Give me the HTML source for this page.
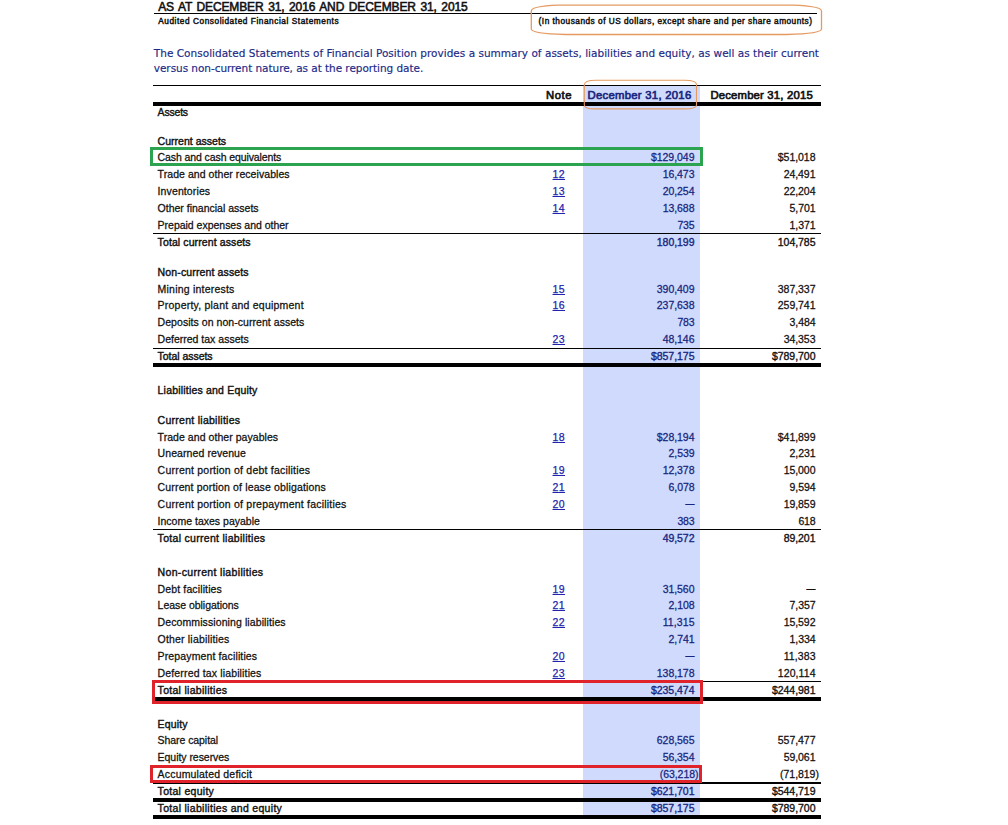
<!DOCTYPE html>
<html lang="en"><head><meta charset="utf-8">
<title>Consolidated Statements of Financial Position</title>
<style>
html,body{margin:0;padding:0;background:#fff;}
body{width:1008px;height:825px;position:relative;overflow:hidden;font-family:"Liberation Sans",Arial,sans-serif;color:#111;}
.t{position:absolute;white-space:nowrap;line-height:20px;height:20px;}
.b{font-weight:bold;}
.rg{-webkit-text-stroke:0.26px currentColor;}
.sb{-webkit-text-stroke:0.4px currentColor;}
.ds{-webkit-text-stroke:0.4px currentColor;}
.sa{-webkit-text-stroke:0.36px currentColor;}
.sn{-webkit-text-stroke:0.35px currentColor;}
.tb{-webkit-text-stroke:0.55px currentColor;}
.hb{-webkit-text-stroke:0.45px currentColor;}
.hh{-webkit-text-stroke:0.65px currentColor;}
.bl{color:#18267f;}
.pb{color:#1b2986;-webkit-text-stroke:0.15px currentColor;font-family:"DejaVu Sans","Liberation Sans",sans-serif;}
.lk{color:#2323ad;text-decoration:underline;text-underline-offset:1.2px;text-decoration-thickness:1px;-webkit-text-stroke:0.25px currentColor;}
.ln{position:absolute;}
.box{position:absolute;box-sizing:border-box;}
svg{position:absolute;left:0;top:0;}
</style></head><body>

<div class="ln" style="left:583px;top:86px;width:117px;height:728.8px;background:#cfdafc"></div>
<div class="ln" style="left:153.7px;top:12.7px;width:663.5px;height:1.0px;background:#000"></div>
<div class="ln" style="left:153px;top:85px;width:668.0px;height:1.0px;background:#000"></div>
<div class="ln" style="left:153px;top:102px;width:668.0px;height:4.0px;background:#000"></div>
<div class="ln" style="left:153px;top:233.3px;width:668.0px;height:1.0px;background:#000"></div>
<div class="ln" style="left:153px;top:348px;width:668.0px;height:1.0px;background:#000"></div>
<div class="ln" style="left:153px;top:363px;width:668.0px;height:4.0px;background:#000"></div>
<div class="ln" style="left:153px;top:529px;width:668.0px;height:1.0px;background:#000"></div>
<div class="ln" style="left:153px;top:681px;width:668.0px;height:1.0px;background:#000"></div>
<div class="ln" style="left:153px;top:697.1px;width:668.0px;height:3.8px;background:#000"></div>
<div class="ln" style="left:153px;top:782.2px;width:668.0px;height:1.8px;background:#000"></div>
<div class="ln" style="left:153px;top:798.2px;width:668.0px;height:3.7px;background:#000"></div>
<div class="ln" style="left:153px;top:815px;width:668.0px;height:3.9px;background:#000"></div>
<span id="l0" class="t sa" style="left:157.60px;top:101.86px;font-size:10.5px;letter-spacing:-0.202px;">Assets</span>
<span id="l1" class="t sb" style="left:157.60px;top:131.36px;font-size:10.5px;letter-spacing:0.018px;">Current assets</span>
<span id="l2" class="t rg" style="left:157.60px;top:147.36px;font-size:10.5px;letter-spacing:-0.097px;">Cash and cash equivalents</span>
<span id="a2" class="t bl rg" style="left:650.90px;top:147.36px;font-size:10.5px;letter-spacing:-0.028px;">$129,049</span>
<span id="c2" class="t rg" style="left:777.80px;top:147.36px;font-size:10.5px;letter-spacing:-0.043px;">$51,018</span>
<span id="l3" class="t rg" style="left:157.60px;top:164.36px;font-size:10.5px;letter-spacing:0.063px;">Trade and other receivables</span>
<a id="n3" class="t lk" style="left:552.50px;top:164.36px;font-size:10.5px;letter-spacing:0.424px;">12</a>
<span id="a3" class="t bl rg" style="left:662.70px;top:164.36px;font-size:10.5px;letter-spacing:-0.064px;">16,473</span>
<span id="c3" class="t rg" style="left:783.70px;top:164.36px;font-size:10.5px;letter-spacing:-0.064px;">24,491</span>
<span id="l4" class="t rg" style="left:157.60px;top:181.36px;font-size:10.5px;letter-spacing:0.113px;">Inventories</span>
<a id="n4" class="t lk" style="left:552.50px;top:181.36px;font-size:10.5px;letter-spacing:0.424px;">13</a>
<span id="a4" class="t bl rg" style="left:662.70px;top:181.36px;font-size:10.5px;letter-spacing:-0.064px;">20,254</span>
<span id="c4" class="t rg" style="left:783.70px;top:181.36px;font-size:10.5px;letter-spacing:-0.064px;">22,204</span>
<span id="l5" class="t rg" style="left:157.60px;top:198.11px;font-size:10.5px;">Other financial assets</span>
<a id="n5" class="t lk" style="left:552.50px;top:198.11px;font-size:10.5px;letter-spacing:0.424px;">14</a>
<span id="a5" class="t bl rg" style="left:662.70px;top:198.11px;font-size:10.5px;letter-spacing:-0.064px;">13,688</span>
<span id="c5" class="t rg" style="left:789.60px;top:198.11px;font-size:10.5px;letter-spacing:-0.093px;">5,701</span>
<span id="l6" class="t rg" style="left:157.60px;top:214.86px;font-size:10.5px;letter-spacing:-0.014px;">Prepaid expenses and other</span>
<span id="a6" class="t bl rg" style="left:677.40px;top:214.86px;font-size:10.5px;letter-spacing:-0.207px;">735</span>
<span id="c6" class="t rg" style="left:789.60px;top:214.86px;font-size:10.5px;letter-spacing:-0.093px;">1,371</span>
<span id="l7" class="t sb" style="left:157.60px;top:232.11px;font-size:10.5px;letter-spacing:0.103px;">Total current assets</span>
<span id="a7" class="t bl sn" style="left:656.80px;top:232.11px;font-size:10.5px;letter-spacing:-0.043px;">180,199</span>
<span id="c7" class="t sn" style="left:777.80px;top:232.11px;font-size:10.5px;letter-spacing:-0.043px;">104,785</span>
<span id="l8" class="t sb" style="left:157.60px;top:262.11px;font-size:10.5px;letter-spacing:0.135px;">Non-current assets</span>
<span id="l9" class="t rg" style="left:157.60px;top:279.11px;font-size:10.5px;letter-spacing:0.215px;">Mining interests</span>
<a id="n9" class="t lk" style="left:552.50px;top:279.11px;font-size:10.5px;letter-spacing:0.424px;">15</a>
<span id="a9" class="t bl rg" style="left:656.80px;top:279.11px;font-size:10.5px;letter-spacing:-0.043px;">390,409</span>
<span id="c9" class="t rg" style="left:777.80px;top:279.11px;font-size:10.5px;letter-spacing:-0.043px;">387,337</span>
<span id="l10" class="t rg" style="left:157.60px;top:295.36px;font-size:10.5px;letter-spacing:0.218px;">Property, plant and equipment</span>
<a id="n10" class="t lk" style="left:552.50px;top:295.36px;font-size:10.5px;letter-spacing:0.424px;">16</a>
<span id="a10" class="t bl rg" style="left:656.80px;top:295.36px;font-size:10.5px;letter-spacing:-0.043px;">237,638</span>
<span id="c10" class="t rg" style="left:777.80px;top:295.36px;font-size:10.5px;letter-spacing:-0.043px;">259,741</span>
<span id="l11" class="t rg" style="left:157.60px;top:312.36px;font-size:10.5px;letter-spacing:0.049px;">Deposits on non-current assets</span>
<span id="a11" class="t bl rg" style="left:677.40px;top:312.36px;font-size:10.5px;letter-spacing:-0.207px;">783</span>
<span id="c11" class="t rg" style="left:789.60px;top:312.36px;font-size:10.5px;letter-spacing:-0.093px;">3,484</span>
<span id="l12" class="t rg" style="left:157.60px;top:329.11px;font-size:10.5px;">Deferred tax assets</span>
<a id="n12" class="t lk" style="left:552.50px;top:329.11px;font-size:10.5px;letter-spacing:0.424px;">23</a>
<span id="a12" class="t bl rg" style="left:662.70px;top:329.11px;font-size:10.5px;letter-spacing:-0.064px;">48,146</span>
<span id="c12" class="t rg" style="left:783.70px;top:329.11px;font-size:10.5px;letter-spacing:-0.064px;">34,353</span>
<span id="l13" class="t sb" style="left:157.60px;top:346.11px;font-size:10.5px;letter-spacing:-0.040px;">Total assets</span>
<span id="a13" class="t bl sn" style="left:650.90px;top:346.11px;font-size:10.5px;letter-spacing:-0.028px;">$857,175</span>
<span id="c13" class="t sn" style="left:771.90px;top:346.11px;font-size:10.5px;letter-spacing:-0.028px;">$789,700</span>
<span id="l14" class="t sb" style="left:157.60px;top:380.06px;font-size:10.5px;letter-spacing:0.191px;">Liabilities and Equity</span>
<span id="l15" class="t sb" style="left:157.60px;top:410.11px;font-size:10.5px;letter-spacing:0.271px;">Current liabilities</span>
<span id="l16" class="t rg" style="left:157.60px;top:427.11px;font-size:10.5px;letter-spacing:0.053px;">Trade and other payables</span>
<a id="n16" class="t lk" style="left:552.50px;top:427.11px;font-size:10.5px;letter-spacing:0.424px;">18</a>
<span id="a16" class="t bl rg" style="left:656.80px;top:427.11px;font-size:10.5px;letter-spacing:-0.043px;">$28,194</span>
<span id="c16" class="t rg" style="left:777.80px;top:427.11px;font-size:10.5px;letter-spacing:-0.043px;">$41,899</span>
<span id="l17" class="t rg" style="left:157.60px;top:443.36px;font-size:10.5px;letter-spacing:0.085px;">Unearned revenue</span>
<span id="a17" class="t bl rg" style="left:668.60px;top:443.36px;font-size:10.5px;letter-spacing:-0.093px;">2,539</span>
<span id="c17" class="t rg" style="left:789.60px;top:443.36px;font-size:10.5px;letter-spacing:-0.093px;">2,231</span>
<span id="l18" class="t rg" style="left:157.60px;top:460.36px;font-size:10.5px;letter-spacing:0.218px;">Current portion of debt facilities</span>
<a id="n18" class="t lk" style="left:552.50px;top:460.36px;font-size:10.5px;letter-spacing:0.424px;">19</a>
<span id="a18" class="t bl rg" style="left:662.70px;top:460.36px;font-size:10.5px;letter-spacing:-0.064px;">12,378</span>
<span id="c18" class="t rg" style="left:783.70px;top:460.36px;font-size:10.5px;letter-spacing:-0.064px;">15,000</span>
<span id="l19" class="t rg" style="left:157.60px;top:477.11px;font-size:10.5px;letter-spacing:0.154px;">Current portion of lease obligations</span>
<a id="n19" class="t lk" style="left:552.50px;top:477.11px;font-size:10.5px;letter-spacing:0.424px;">21</a>
<span id="a19" class="t bl rg" style="left:668.60px;top:477.11px;font-size:10.5px;letter-spacing:-0.093px;">6,078</span>
<span id="c19" class="t rg" style="left:789.60px;top:477.11px;font-size:10.5px;letter-spacing:-0.093px;">9,594</span>
<span id="l20" class="t rg" style="left:157.60px;top:493.86px;font-size:10.5px;letter-spacing:0.216px;">Current portion of prepayment facilities</span>
<a id="n20" class="t lk" style="left:552.50px;top:493.86px;font-size:10.5px;letter-spacing:0.424px;">20</a>
<span id="a20" class="t ds bl" style="left:685.60px;top:493.92px;font-size:8.9px;">—</span>
<span id="c20" class="t rg" style="left:783.70px;top:493.86px;font-size:10.5px;letter-spacing:-0.064px;">19,859</span>
<span id="l21" class="t rg" style="left:157.60px;top:510.86px;font-size:10.5px;letter-spacing:0.006px;">Income taxes payable</span>
<span id="a21" class="t bl rg" style="left:677.40px;top:510.86px;font-size:10.5px;letter-spacing:-0.207px;">383</span>
<span id="c21" class="t rg" style="left:798.40px;top:510.86px;font-size:10.5px;letter-spacing:-0.207px;">618</span>
<span id="l22" class="t sb" style="left:157.60px;top:528.11px;font-size:10.5px;letter-spacing:0.297px;">Total current liabilities</span>
<span id="a22" class="t bl sn" style="left:662.70px;top:528.11px;font-size:10.5px;letter-spacing:-0.064px;">49,572</span>
<span id="c22" class="t sn" style="left:783.70px;top:528.11px;font-size:10.5px;letter-spacing:-0.064px;">89,201</span>
<span id="l23" class="t sb" style="left:157.60px;top:562.11px;font-size:10.5px;letter-spacing:0.339px;">Non-current liabilities</span>
<span id="l24" class="t rg" style="left:157.60px;top:579.11px;font-size:10.5px;letter-spacing:0.129px;">Debt facilities</span>
<a id="n24" class="t lk" style="left:552.50px;top:579.11px;font-size:10.5px;letter-spacing:0.424px;">19</a>
<span id="a24" class="t bl rg" style="left:662.70px;top:579.11px;font-size:10.5px;letter-spacing:-0.064px;">31,560</span>
<span id="c24" class="t ds" style="left:806.60px;top:579.17px;font-size:8.9px;">—</span>
<span id="l25" class="t rg" style="left:157.60px;top:595.36px;font-size:10.5px;letter-spacing:-0.030px;">Lease obligations</span>
<a id="n25" class="t lk" style="left:552.50px;top:595.36px;font-size:10.5px;letter-spacing:0.424px;">21</a>
<span id="a25" class="t bl rg" style="left:668.60px;top:595.36px;font-size:10.5px;letter-spacing:-0.093px;">2,108</span>
<span id="c25" class="t rg" style="left:789.60px;top:595.36px;font-size:10.5px;letter-spacing:-0.093px;">7,357</span>
<span id="l26" class="t rg" style="left:157.60px;top:612.11px;font-size:10.5px;letter-spacing:0.098px;">Decommissioning liabilities</span>
<a id="n26" class="t lk" style="left:552.50px;top:612.11px;font-size:10.5px;letter-spacing:0.424px;">22</a>
<span id="a26" class="t bl rg" style="left:662.70px;top:612.11px;font-size:10.5px;letter-spacing:0.094px;">11,315</span>
<span id="c26" class="t rg" style="left:783.70px;top:612.11px;font-size:10.5px;letter-spacing:-0.064px;">15,592</span>
<span id="l27" class="t rg" style="left:157.60px;top:629.11px;font-size:10.5px;letter-spacing:0.181px;">Other liabilities</span>
<span id="a27" class="t bl rg" style="left:668.60px;top:629.11px;font-size:10.5px;letter-spacing:-0.093px;">2,741</span>
<span id="c27" class="t rg" style="left:789.60px;top:629.11px;font-size:10.5px;letter-spacing:-0.093px;">1,334</span>
<span id="l28" class="t rg" style="left:157.60px;top:645.86px;font-size:10.5px;letter-spacing:0.131px;">Prepayment facilities</span>
<a id="n28" class="t lk" style="left:552.50px;top:645.86px;font-size:10.5px;letter-spacing:0.424px;">20</a>
<span id="a28" class="t ds bl" style="left:685.60px;top:645.92px;font-size:8.9px;">—</span>
<span id="c28" class="t rg" style="left:783.70px;top:645.86px;font-size:10.5px;letter-spacing:0.094px;">11,383</span>
<span id="l29" class="t rg" style="left:157.60px;top:662.86px;font-size:10.5px;letter-spacing:0.147px;">Deferred tax liabilities</span>
<a id="n29" class="t lk" style="left:552.50px;top:662.86px;font-size:10.5px;letter-spacing:0.424px;">23</a>
<span id="a29" class="t bl rg" style="left:656.80px;top:662.86px;font-size:10.5px;letter-spacing:-0.043px;">138,178</span>
<span id="c29" class="t rg" style="left:777.80px;top:662.86px;font-size:10.5px;letter-spacing:0.087px;">120,114</span>
<span id="l30" class="t sb" style="left:157.60px;top:679.61px;font-size:10.5px;letter-spacing:0.295px;">Total liabilities</span>
<span id="a30" class="t bl sn" style="left:650.90px;top:679.61px;font-size:10.5px;letter-spacing:-0.028px;">$235,474</span>
<span id="c30" class="t sn" style="left:771.90px;top:679.61px;font-size:10.5px;letter-spacing:-0.028px;">$244,981</span>
<span id="l31" class="t sb" style="left:157.60px;top:713.86px;font-size:10.5px;letter-spacing:0.164px;">Equity</span>
<span id="l32" class="t rg" style="left:157.60px;top:730.11px;font-size:10.5px;letter-spacing:-0.066px;">Share capital</span>
<span id="a32" class="t bl rg" style="left:656.80px;top:730.11px;font-size:10.5px;letter-spacing:-0.043px;">628,565</span>
<span id="c32" class="t rg" style="left:777.80px;top:730.11px;font-size:10.5px;letter-spacing:-0.043px;">557,477</span>
<span id="l33" class="t rg" style="left:157.60px;top:746.86px;font-size:10.5px;letter-spacing:-0.044px;">Equity reserves</span>
<span id="a33" class="t bl rg" style="left:662.70px;top:746.86px;font-size:10.5px;letter-spacing:-0.064px;">56,354</span>
<span id="c33" class="t rg" style="left:783.70px;top:746.86px;font-size:10.5px;letter-spacing:-0.064px;">59,061</span>
<span id="l34" class="t rg" style="left:157.60px;top:763.86px;font-size:10.5px;letter-spacing:0.178px;">Accumulated deficit</span>
<span id="a34" class="t bl rg" style="left:659.70px;top:763.86px;font-size:10.5px;letter-spacing:-0.045px;">(63,218)</span>
<span id="c34" class="t rg" style="left:780.10px;top:763.86px;font-size:10.5px;letter-spacing:-0.045px;">(71,819)</span>
<span id="l35" class="t sb" style="left:157.60px;top:780.61px;font-size:10.5px;letter-spacing:0.285px;">Total equity</span>
<span id="a35" class="t bl sn" style="left:650.90px;top:780.61px;font-size:10.5px;letter-spacing:-0.028px;">$621,701</span>
<span id="c35" class="t sn" style="left:771.90px;top:780.61px;font-size:10.5px;letter-spacing:-0.028px;">$544,719</span>
<span id="l36" class="t sb" style="left:157.60px;top:797.61px;font-size:10.5px;letter-spacing:0.300px;">Total liabilities and equity</span>
<span id="a36" class="t bl sn" style="left:650.90px;top:797.61px;font-size:10.5px;letter-spacing:-0.028px;">$857,175</span>
<span id="c36" class="t sn" style="left:771.90px;top:797.61px;font-size:10.5px;letter-spacing:-0.028px;">$789,700</span>
<span id="title" class="t tb" style="left:158.20px;top:-3.16px;font-size:12.0px;letter-spacing:-0.123px;word-spacing:1.4px;">AS AT DECEMBER 31, 2016 AND DECEMBER 31, 2015</span>
<span id="sub" class="t hb" style="left:158.20px;top:11.64px;font-size:8.25px;letter-spacing:0.566px;">Audited Consolidated Financial Statements</span>
<span id="inth" class="t hb" style="left:538.60px;top:11.64px;font-size:8.25px;letter-spacing:0.511px;">(In thousands of US dollars, except share and per share amounts)</span>
<span id="p1" class="t pb" style="left:153.83px;top:42.77px;font-size:10.5px;letter-spacing:0.014px;">The Consolidated Statements of Financial Position provides a summary of assets, liabilities and equity, as well as their current</span>
<span id="p2" class="t pb" style="left:153.80px;top:58.17px;font-size:10.5px;letter-spacing:-0.051px;">versus non-current nature, as at the reporting date.</span>
<span id="hn" class="t hh" style="left:545.90px;top:84.78px;font-size:11.3px;letter-spacing:0.611px;">Note</span>
<span id="h16" class="t hh bl" style="left:587.60px;top:84.78px;font-size:11.3px;letter-spacing:0.272px;">December 31, 2016</span>
<span id="h15" class="t hh" style="left:710.40px;top:84.78px;font-size:11.3px;letter-spacing:0.191px;">December 31, 2015</span>
<div class="box" style="left:150px;top:147px;width:553px;height:19px;border:3px solid #2ba34f"></div>
<div class="box" style="left:151.8px;top:680px;width:551.2px;height:23.9px;border:3px solid #e0222b"></div>
<div class="box" style="left:150px;top:765px;width:552px;height:18px;border:3px solid #e0222b;border-top-width:3.3px"></div>
<svg width="1008" height="825" viewBox="0 0 1008 825" fill="none" stroke="#e59a62" stroke-width="1.3" stroke-linejoin="round"><path d="M558 5.1 H793 C808 5.7 821.5 7.3 821.5 11 V29 C821.5 32.4 806 34 787 34.5 H565 C546 34 531.3 32.4 531.3 29 V11 C531.3 7.3 544 5.7 558 5.1 Z"/><path stroke-width="1.1" d="M595.6 80.3 H684.6 C692.5 80.3 696.5 81.6 696.5 84.6 V105 C696.5 107.6 692.5 108.9 684.6 108.9 H594.3 C588 108.9 584.3 107.6 584.3 105 V85 C584.3 82 588 80.3 595.6 80.3 Z"/></svg>
</body></html>
